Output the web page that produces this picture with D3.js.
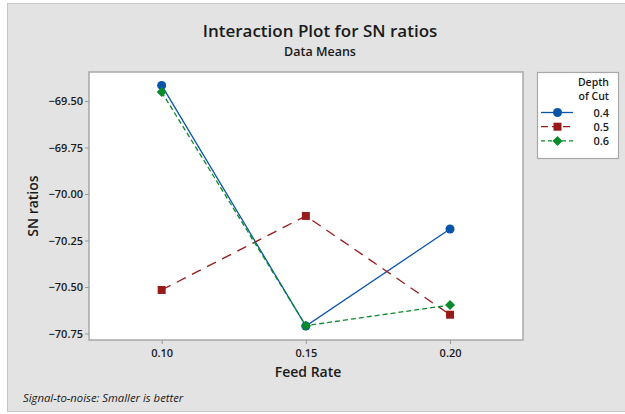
<!DOCTYPE html>
<html>
<head>
<meta charset="utf-8">
<script src="https://cdn.jsdelivr.net/npm/d3@7"></script>
<style>
  html, body { margin: 0; padding: 0; background: #ffffff; }
  svg { display: block; }
  text { font-family: "Open Sans", "Noto Sans", sans-serif; fill: #1a1a1a; }
</style>
</head>
<body>
<svg id="chart" width="625" height="414"></svg>
<script>
// Feed rate levels on the x axis
const feedRates = [0.10, 0.15, 0.20];
// Depth of cut levels (one line each)
const depths = ["0.4", "0.5", "0.6"];
// Mean SN ratio for each depth across the feed rates
const sn04 = [-69.416, -70.710, -70.188];
const sn05 = [-70.516, -70.118, -70.649];
const sn06 = [-69.452, -70.708, -70.597];
// Axis tick values
const yTicks = [-69.50, -69.75, -70.00, -70.25, -70.50, -70.75];
const xTicks = [0.10, 0.15, 0.20];

const series = [
  { name: depths[0], values: sn04, color: "#0a55a8", dash: null,   legendDash: null,  symbol: d3.symbolCircle, size: 64, rot: 0 },
  { name: depths[1], values: sn05, color: "#981b1b", dash: "10,7", legendDash: "7,4", symbol: d3.symbolSquare, size: 64, rot: 0 },
  { name: depths[2], values: sn06, color: "#0b8a2b", dash: "5,3",  legendDash: "4,3", symbol: d3.symbolSquare, size: 50, rot: 45 }
];

const svg = d3.select("#chart");

// Figure background
svg.append("rect").attr("x", 7.5).attr("y", 3.5).attr("width", 630).attr("height", 408)
  .attr("fill", "#e3e3e3").attr("stroke", "#c6c6c6").attr("stroke-width", 1);

const plot = { left: 89, top: 72, right: 523, bottom: 340 };

const x = d3.scaleLinear().domain([0.0748, 0.2253]).range([plot.left, plot.right]);
const y = d3.scaleLinear().domain([-70.785, -69.344]).range([plot.bottom, plot.top]);

// Plot area
svg.append("rect").attr("x", plot.left).attr("y", plot.top)
  .attr("width", plot.right - plot.left).attr("height", plot.bottom - plot.top)
  .attr("fill", "#ffffff").attr("stroke", "#a8a8a8").attr("stroke-width", 1.5);

// Axes
const yAxis = d3.axisLeft(y).tickValues(yTicks).tickFormat(d3.format(".2f")).tickSize(4).tickPadding(2);
const xAxis = d3.axisBottom(x).tickValues(xTicks).tickFormat(d3.format(".2f")).tickSize(4).tickPadding(5);

const gy = svg.append("g").attr("transform", `translate(${plot.left},0)`).call(yAxis);
const gx = svg.append("g").attr("transform", `translate(0,${plot.bottom})`).call(xAxis);
[gy, gx].forEach(g => {
  g.select(".domain").remove();
  g.selectAll(".tick line").attr("stroke", "#9a9a9a");
  g.selectAll(".tick text").attr("font-size", 11).attr("font-weight", 600)
    .style("font-family", "'Open Sans', sans-serif").attr("fill", "#1a1a1a");
});

// Lines and markers
const line = d3.line().x((d, i) => x(feedRates[i])).y(d => y(d));
series.forEach(s => {
  svg.append("path").datum(s.values).attr("d", line)
    .attr("fill", "none").attr("stroke", s.color).attr("stroke-width", 1.3)
    .attr("stroke-dasharray", s.dash);
});
series.forEach(s => {
  svg.append("g").selectAll("path").data(s.values).join("path")
    .attr("transform", (d, i) => `translate(${x(feedRates[i])},${y(d)}) rotate(${s.rot})`)
    .attr("d", d3.symbol().type(s.symbol).size(s.size))
    .attr("fill", s.color);
});

// Titles
svg.append("text").attr("x", 320).attr("y", 37).attr("text-anchor", "middle")
  .attr("font-size", 17).attr("font-weight", 600).text("Interaction Plot for SN ratios");
svg.append("text").attr("x", 320).attr("y", 56).attr("text-anchor", "middle")
  .attr("font-size", 12.5).attr("font-weight", 600).text("Data Means");

svg.append("text").attr("transform", `translate(38,${(plot.top + plot.bottom) / 2}) rotate(-90)`)
  .attr("text-anchor", "middle").attr("font-size", 14).attr("font-weight", 600).text("SN ratios");
svg.append("text").attr("x", (plot.left + plot.right) / 2 + 2).attr("y", 377).attr("text-anchor", "middle")
  .attr("font-size", 14).attr("font-weight", 600).text("Feed Rate");

svg.append("text").attr("x", 23).attr("y", 402).attr("font-size", 11.3).attr("font-style", "italic")
  .text("Signal-to-noise: Smaller is better");

// Legend
const lg = svg.append("g");
lg.append("rect").attr("x", 537.5).attr("y", 72.5).attr("width", 81).attr("height", 86)
  .attr("fill", "#ffffff").attr("stroke", "#a8a8a8").attr("stroke-width", 1.2);
lg.append("text").attr("x", 609).attr("y", 86).attr("text-anchor", "end")
  .attr("font-size", 10.5).attr("font-weight", 600).text("Depth");
lg.append("text").attr("x", 609).attr("y", 100).attr("text-anchor", "end")
  .attr("font-size", 10.5).attr("font-weight", 600).text("of Cut");
series.forEach((s, i) => {
  const yy = 112.5 + i * 14.2;
  lg.append("line").attr("x1", 541).attr("x2", 573).attr("y1", yy).attr("y2", yy)
    .attr("stroke", s.color).attr("stroke-width", 1.3).attr("stroke-dasharray", s.legendDash);
  lg.append("path").attr("transform", `translate(557.5,${yy}) rotate(${s.rot})`)
    .attr("d", d3.symbol().type(s.symbol).size(s.size)).attr("fill", s.color);
  lg.append("text").attr("x", 609).attr("y", yy + 4).attr("text-anchor", "end")
    .attr("font-size", 11).attr("font-weight", 600).text(s.name);
});
</script>
</body>
</html>
